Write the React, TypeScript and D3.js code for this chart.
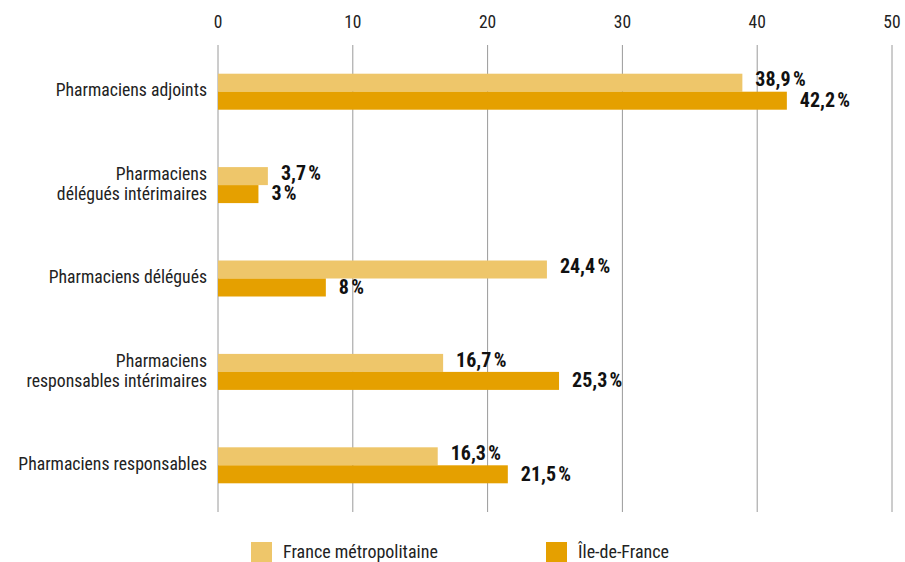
import React from "react";
import * as d3 from "d3";

const categories = [
  ["Pharmaciens adjoints"],
  ["Pharmaciens", "délégués intérimaires"],
  ["Pharmaciens délégués"],
  ["Pharmaciens", "responsables intérimaires"],
  ["Pharmaciens responsables"],
];
const franceValues = [38.9, 3.7, 24.4, 16.7, 16.3];
const idfValues = [42.2, 3, 8, 25.3, 21.5];
const seriesNames = ["France métropolitaine", "Île-de-France"];
const ticks = [0, 10, 20, 30, 40, 50];

const W = 905, H = 562;
const colors = ["#EEC66A", "#E5A000"];
const FONT = "'Roboto Condensed', 'Liberation Sans Narrow', 'Arial Narrow', Roboto, sans-serif";

export default function App() {
  const x = d3.scaleLinear().domain([0, 50]).range([218, 892]);
  const y = d3.scaleBand().domain(categories.map((_, i) => String(i))).range([45, 512]);
  const barH = 18;
  const fmt = (v: number) => String(v).replace(".", ",") + "\u202f%";
  return (
    <svg width={W} height={H} style={{ position: "absolute", left: 0, top: 0, fontFamily: FONT }}>
      {ticks.map((t) => (
        <g key={t}>
          <line x1={x(t)} x2={x(t)} y1={45} y2={512} stroke="#9a9a9a" strokeWidth={1} />
          <text x={x(t)} y={23} textAnchor="middle" dominantBaseline="middle" fontSize={17.5} fill="#222">
            {t}
          </text>
        </g>
      ))}
      {categories.map((lines, i) => {
        const cy = (y(String(i)) as number) + y.bandwidth() / 2;
        const vals = [franceValues[i], idfValues[i]];
        return (
          <g key={i}>
            {lines.map((l, j) => (
              <text
                key={j}
                x={207}
                y={cy + (j - (lines.length - 1) / 2) * 20}
                textAnchor="end"
                dominantBaseline="middle"
                fontSize={17.7}
                fill="#222"
              >
                {l}
              </text>
            ))}
            {vals.map((v, k) => (
              <g key={k}>
                <rect x={x(0)} y={cy - barH + k * barH} width={x(v) - x(0)} height={barH} fill={colors[k]} />
                <text
                  x={x(v) + 13}
                  y={cy - barH / 2 + k * barH + (k === 0 ? -1.5 : 1)}
                  dominantBaseline="middle"
                  fontSize={20}
                  fontWeight="bold"
                  fill="#111"
                >
                  {fmt(v)}
                </text>
              </g>
            ))}
          </g>
        );
      })}
      {seriesNames.map((n, k) => {
        const lx = [251, 546][k];
        return (
          <g key={n}>
            <rect x={lx} y={542} width={21} height={21} fill={colors[k]} />
            <text x={lx + 32} y={553} dominantBaseline="middle" fontSize={18} fill="#222">
              {n}
            </text>
          </g>
        );
      })}
    </svg>
  );
}
